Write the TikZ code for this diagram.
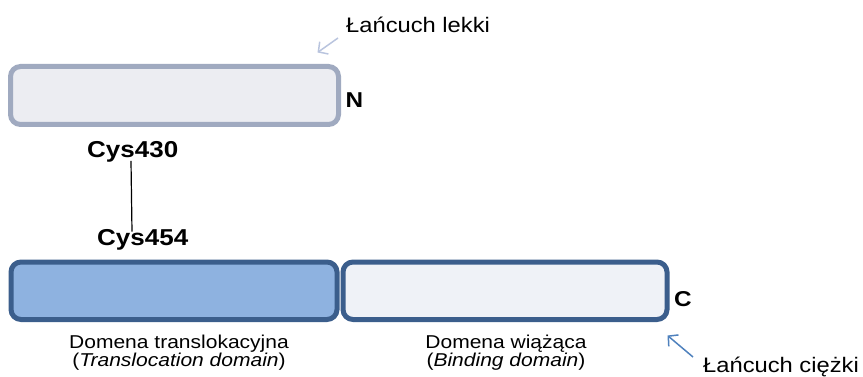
\documentclass[tikz,border=0pt]{standalone}
\usepackage{fontspec}
\setmainfont{Liberation Sans}[FakeStretch=1.13]
\usetikzlibrary{arrows.meta,calc}
\definecolor{lightstroke}{RGB}{160,170,192}
\definecolor{lightfill}{RGB}{236,237,242}
\definecolor{darkstroke}{RGB}{59,94,140}
\definecolor{transfill}{RGB}{142,178,224}
\definecolor{bindfill}{RGB}{239,242,247}
\definecolor{arrlight}{RGB}{185,196,222}
\definecolor{arrheavy}{RGB}{79,129,189}
\tikzset{
  chainbox/.style={draw, rounded corners=10pt, line width=5pt, inner sep=0pt},
  lbl/.style={inner sep=0pt, font=\fontsize{21}{24}\selectfont},
  domlbl/.style={inner sep=0pt, align=center, font=\fontsize{18.6}{18.4}\selectfont},
  cyslbl/.style={inner sep=0pt, font=\fontsize{23}{26}\selectfont\bfseries},
  endlbl/.style={inner sep=0pt, font=\fontsize{21.5}{24}\selectfont\bfseries},
  pointer/.style={line width=1.5pt, -{Straight Barb[length=7pt,width=15pt]}}
}
\begin{document}
\begin{tikzpicture}[x=1pt,y=-1pt]
\useasboundingbox (0,0) rectangle (863,377);
% light chain
\node[chainbox, draw=lightstroke, fill=lightfill, minimum width=328pt, minimum height=58pt] (light) at (174.5,95.5) {};
\node[endlbl, anchor=center] (N) at (354.5,100) {N};
\node[lbl, anchor=base west] (lekki) at (346,33) {Łańcuch lekki};
\draw[pointer, draw=arrlight] ([xshift=-8pt,yshift=-5pt]lekki.base west) -- ([xshift=-23.5pt,yshift=11.5pt]light.north east);
% disulfide bond
\node[cyslbl, anchor=base west] (c430) at (87,158) {Cys430};
\node[cyslbl, anchor=base west] (c454) at (97,246) {Cys454};
\draw[line width=1.2pt] ([xshift=44pt,yshift=2pt]c430.south west) -- ([xshift=35pt,yshift=-2pt]c454.north west);
% heavy chain
\node[chainbox, draw=darkstroke, fill=transfill, minimum width=326pt, minimum height=57.5pt] (trans) at (174,290.75) {};
\node[chainbox, draw=darkstroke, fill=bindfill, minimum width=324pt, minimum height=57.5pt] (bind) at (505,290.75) {};
\node[endlbl, anchor=center] (C) at (683,299.5) {C};
\node[domlbl, anchor=north] (tlab) at (179,334.5) {Domena translokacyjna\\(\textit{Translocation domain})};
\node[domlbl, anchor=north] (blab) at (506,334.5) {Domena wiążąca\\(\textit{Binding domain})};
\node[lbl, anchor=base west] (ciezki) at (703,372) {Łańcuch ciężki};
\draw[pointer, draw=arrheavy] ([xshift=-10pt,yshift=15pt]ciezki.base west) -- ([xshift=-2pt,yshift=-13.5pt]bind.south east);
\end{tikzpicture}
\end{document}
